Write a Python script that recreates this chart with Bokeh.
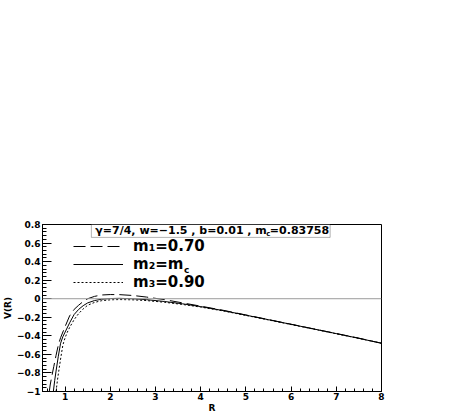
from bokeh.plotting import figure
from bokeh.models import (Range1d, FixedTicker, Span, Label, BoxAnnotation,
                          Legend, LegendItem)
from bokeh.embed import file_html
from bokeh.resources import INLINE

# ---- data ----
r1 = [0.65, 0.67, 0.70, 0.75, 0.80, 0.85, 0.90, 1.00, 1.10, 1.20, 1.30, 1.40,
      1.50, 1.65, 1.80, 2.00, 2.20, 2.50, 2.80, 3.20, 3.60, 4.00, 4.50, 5.00,
      5.50, 6.00, 6.50, 7.00, 7.50, 8.00]
v1 = [-1.00, -0.93, -0.85, -0.73, -0.61, -0.50, -0.42, -0.30, -0.185, -0.115,
      -0.07, -0.03, 0.00, 0.025, 0.04, 0.045, 0.044, 0.035, 0.018, -0.01,
      -0.045, -0.08, -0.125, -0.175, -0.225, -0.275, -0.325, -0.375, -0.425, -0.48]

r2 = [0.74, 0.77, 0.80, 0.85, 0.90, 0.95, 1.00, 1.10, 1.20, 1.30, 1.40, 1.50,
      1.65, 1.80, 2.00, 2.20, 2.50, 2.80, 3.20, 3.60, 4.00, 4.50, 5.00, 5.50,
      6.00, 6.50, 7.00, 7.50, 8.00]
v2 = [-1.00, -0.88, -0.78, -0.62, -0.48, -0.41, -0.36, -0.26, -0.17, -0.115,
      -0.075, -0.045, -0.02, -0.006, 0.002, 0.004, 0.0, -0.01, -0.03, -0.055,
      -0.085, -0.128, -0.177, -0.226, -0.276, -0.326, -0.376, -0.427, -0.48]

r3 = [0.80, 0.83, 0.86, 0.90, 0.95, 1.00, 1.05, 1.10, 1.20, 1.30, 1.40, 1.50,
      1.65, 1.80, 2.00, 2.20, 2.50, 2.80, 3.20, 3.60, 4.00, 4.50, 5.00, 5.50,
      6.00, 6.50, 7.00, 7.50, 8.00]
v3 = [-1.00, -0.88, -0.78, -0.65, -0.50, -0.42, -0.36, -0.31, -0.225, -0.16,
      -0.11, -0.07, -0.04, -0.022, -0.012, -0.009, -0.012, -0.02, -0.038,
      -0.062, -0.09, -0.132, -0.18, -0.229, -0.278, -0.328, -0.378, -0.428, -0.48]

x_ticks = [1, 2, 3, 4, 5, 6, 7, 8]
x_tick_labels = ["1", "2", "3", "4", "5", "6", "7", "8"]
y_ticks = [-1.0, -0.8, -0.6, -0.4, -0.2, 0.0, 0.2, 0.4, 0.6, 0.8]
y_tick_labels = ["\u22121", "\u22120.8", "\u22120.6", "\u22120.4", "\u22120.2",
                 "0", "0.2", "0.4", "0.6", "0.8"]
legend_labels = ["m\u2081=0.70", "m\u2082=m", "m\u2083=0.90"]
title_a = "\u03b3=7/4, w=\u22121.5 , b=0.01 , m"
title_sub = "c"
title_b = "=0.83758"
x_title = "R"
y_title = "V(R)"

FONT = "DejaVu Sans"

p = figure(width=457, height=415, output_backend="svg", toolbar_location=None,
           x_range=Range1d(0.5, 8.0), y_range=Range1d(-1.0, 0.8),
           min_border_left=41, min_border_right=76, min_border_top=224,
           min_border_bottom=22)
p.background_fill_color = "white"
p.border_fill_color = "white"
p.outline_line_color = "black"
p.outline_line_width = 1
p.xgrid.visible = False
p.ygrid.visible = False

x_minor = [round(0.6 + 0.2 * i, 2) for i in range(38)]
y_minor = [round(-1.0 + 0.04 * i, 2) for i in range(46)]
p.xaxis.ticker = FixedTicker(ticks=x_ticks, minor_ticks=x_minor)
p.yaxis.ticker = FixedTicker(ticks=y_ticks, minor_ticks=y_minor)
p.xaxis.major_label_overrides = {t: s for t, s in zip(x_ticks, x_tick_labels)}
p.yaxis.major_label_overrides = {t: s for t, s in zip(y_ticks, y_tick_labels)}

for ax in (p.xaxis, p.yaxis):
    ax.axis_line_color = "black"
    ax.major_tick_line_color = "black"
    ax.minor_tick_line_color = "black"
    ax.major_tick_out = 0
    ax.minor_tick_out = 0
    ax.major_label_text_font = FONT
    ax.major_label_text_font_style = "bold"
    ax.major_label_text_font_size = "9px"
    ax.major_label_text_color = "black"
    ax.major_label_standoff = 2
    ax.axis_label_text_font = FONT
    ax.axis_label_text_font_style = "bold"
    ax.axis_label_text_font_size = "9px"
    ax.axis_label_text_color = "black"
    ax.axis_label_standoff = 1
p.xaxis.axis_label = x_title
p.yaxis.axis_label = y_title
p.xaxis.major_label_standoff = 1
p.xaxis.axis_label_standoff = 0
p.xaxis.major_tick_in = 5
p.xaxis.minor_tick_in = 3
p.yaxis.major_tick_in = 9
p.yaxis.minor_tick_in = 4

p.add_layout(Span(location=0, dimension="width", line_color="#9a9a9a",
                  line_width=1))

l1 = p.line(r1, v1, line_color="black", line_width=1, line_dash="12 5")
l2 = p.line(r2, v2, line_color="black", line_width=1)
l3 = p.line(r3, v3, line_color="black", line_width=1, line_dash="2 2")

legend = Legend(items=[LegendItem(label=legend_labels[0], renderers=[l1]),
                       LegendItem(label=legend_labels[1], renderers=[l2]),
                       LegendItem(label=legend_labels[2], renderers=[l3])],
                location=(31, 100), padding=0, margin=0, spacing=0,
                glyph_width=50, glyph_height=18, label_height=18,
                label_standoff=10, label_text_font=FONT,
                label_text_font_style="bold", label_text_font_size="15px",
                label_text_color="black",
                background_fill_alpha=0, border_line_alpha=0)
p.add_layout(legend)

p.add_layout(Label(x=3.632, y=0.310, text="c", text_font=FONT,
                   text_font_style="bold", text_font_size="9px",
                   text_color="black",
                   text_baseline="middle", text_align="left"))

# title box
p.add_layout(BoxAnnotation(left=1.581, right=6.864, top=0.8, bottom=0.661,
                           fill_color="white", fill_alpha=1.0,
                           line_color="black", line_width=1))
p.add_layout(Label(x=1.669, y=0.731, text=title_a, text_font=FONT,
                   text_font_style="bold", text_font_size="11px",
                   text_color="black",
                   text_baseline="middle", text_align="left"))
p.add_layout(Label(x=5.452, y=0.699, text=title_sub, text_font=FONT,
                   text_font_style="bold", text_font_size="7px",
                   text_color="black",
                   text_baseline="middle", text_align="left"))
p.add_layout(Label(x=6.842, y=0.731, text=title_b, text_font=FONT,
                   text_font_style="bold", text_font_size="11px",
                   text_color="black",
                   text_baseline="middle", text_align="right"))

open("out.html", "w").write(file_html(p, INLINE))
